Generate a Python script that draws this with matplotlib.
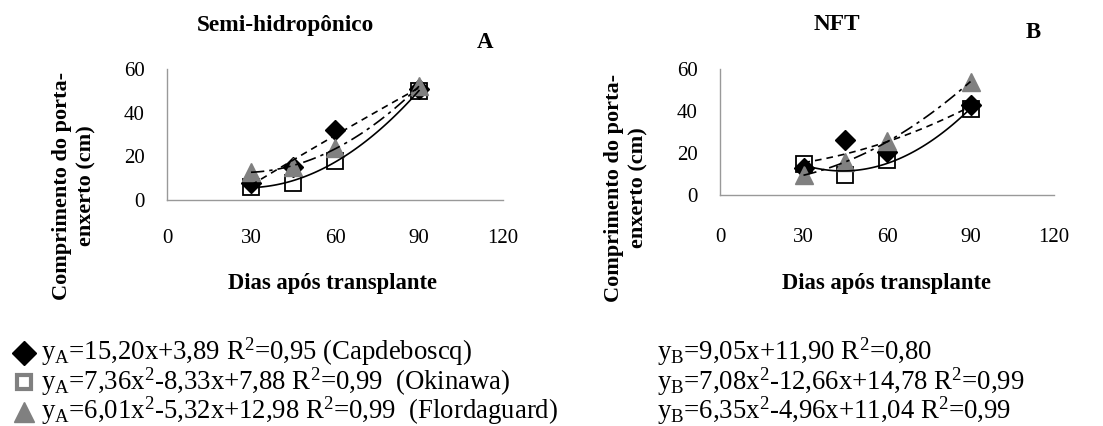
import numpy as np
import matplotlib
matplotlib.use("Agg")
import matplotlib.pyplot as plt
from matplotlib.lines import Line2D

plt.rcParams['font.family'] = 'Liberation Serif'
plt.rcParams['mathtext.fontset'] = 'custom'
plt.rcParams['mathtext.rm'] = 'Liberation Serif'
plt.rcParams['mathtext.it'] = 'Liberation Serif:italic'

dias = [30, 45, 60, 90]

# Semi-hidroponico (A)
capde_a = [8, 15, 32, 51]
okin_a = [6, 8, 18, 50]
flord_a = [13, 15, 24, 52]

# NFT (B)
capde_b = [13, 26, 20.5, 43]
okin_b = [15, 9.5, 16.5, 41]
flord_b = [9.5, 15.5, 25.5, 54]

eq_a = [r"y$_\mathrm{A}$=15,20x+3,89 R$^2$=0,95 (Capdeboscq)",
        r"y$_\mathrm{A}$=7,36x$^2$-8,33x+7,88 R$^2$=0,99  (Okinawa)",
        r"y$_\mathrm{A}$=6,01x$^2$-5,32x+12,98 R$^2$=0,99  (Flordaguard)"]
eq_b = [r"y$_\mathrm{B}$=9,05x+11,90 R$^2$=0,80",
        r"y$_\mathrm{B}$=7,08x$^2$-12,66x+14,78 R$^2$=0,99",
        r"y$_\mathrm{B}$=6,35x$^2$-4,96x+11,04 R$^2$=0,99"]

W, H = 1103, 426
fig = plt.figure(figsize=(W / 100, H / 100), dpi=100)


def px(x0, y0, x1, y1):
    # pixel box -> figure fraction
    return [x0 / W, 1 - y1 / H, (x1 - x0) / W, (y1 - y0) / H]


def panel(box, capde, okin, flord, xpad):
    ax = fig.add_axes(px(*box))
    xs = np.linspace(30, 90, 100)
    styles = [(capde, (0, (4, 3))), (okin, '-'), (flord, (0, (8, 3, 2, 3)))]
    for vals, ls in styles:
        c = np.polyfit(dias, vals, 2)
        ax.plot(xs, np.polyval(c, xs), color='black', lw=1.2, linestyle=ls, zorder=6)
    ax.plot(dias, okin, 's', ms=12, mfc='white', mec='black', mew=1.3, zorder=3)
    ax.plot(dias, capde, 'D', ms=10, color='black', zorder=4)
    ax.plot(dias, flord, '^', ms=13, color='#808080', zorder=5)
    ax.set_xlim(0, 120)
    ax.set_ylim(0, 60)
    ax.set_xticks([0, 30, 60, 90, 120])
    ax.set_yticks([0, 20, 40, 60])
    ax.tick_params(length=0, labelsize=15)
    ax.tick_params(axis='x', pad=xpad)
    ax.tick_params(axis='y', pad=16)
    for s in ['top', 'right']:
        ax.spines[s].set_visible(False)
    for s in ['left', 'bottom']:
        ax.spines[s].set_color('#999999')
        ax.spines[s].set_linewidth(1.0)
    for ln in ax.lines:
        ln.set_clip_on(False)
    return ax


panel((167, 69, 503, 200), capde_a, okin_a, flord_a, 21)
panel((720, 69, 1054, 195), capde_b, okin_b, flord_b, 24)

ylab = "Comprimento do porta-\nenxerto (cm)"
for x, y in [(74, 186), (626, 188)]:
    fig.text(x / W, 1 - y / H, ylab, rotation=90, ha='center', va='center',
             fontsize=16, fontweight='bold', linespacing=1.3, multialignment='center')

fig.text(333 / W, 1 - 283 / H, "Dias após transplante", ha='center', va='center',
         fontsize=16.3, fontweight='bold')
fig.text(887 / W, 1 - 283 / H, "Dias após transplante", ha='center', va='center',
         fontsize=16.3, fontweight='bold')
fig.text(285 / W, 1 - 25 / H, "Semi-hidropônico", ha='center', va='center',
         fontsize=16.8, fontweight='bold')
fig.text(485 / W, 1 - 42 / H, "A", ha='center', va='center', fontsize=16.5, fontweight='bold')
fig.text(837 / W, 1 - 25 / H, "NFT", ha='center', va='center', fontsize=16.8, fontweight='bold')
fig.text(1033 / W, 1 - 33 / H, "B", ha='center', va='center', fontsize=16.5, fontweight='bold')

# legend keys and equations
handles = [Line2D([], [], marker='D', ls='none', ms=12, color='black'),
           Line2D([], [], marker='s', ls='none', ms=10, mfc='white', mec='#808080', mew=3),
           Line2D([], [], marker='^', ls='none', ms=14, color='#808080')]
key_y = [354, 383, 413]
baselines = [360, 389.5, 419]
for i in range(3):
    fig.legend([handles[i]], [''], loc='center', bbox_to_anchor=(24 / W, 1 - key_y[i] / H),
               frameon=False, handlelength=1, handletextpad=0, borderpad=0, borderaxespad=0)
    fig.text(41 / W, 1 - baselines[i] / H, eq_a[i], ha='left', va='baseline', fontsize=19.3)
    fig.text(657 / W, 1 - baselines[i] / H, eq_b[i], ha='left', va='baseline', fontsize=19.3)

fig.savefig("out.png", dpi=100)
